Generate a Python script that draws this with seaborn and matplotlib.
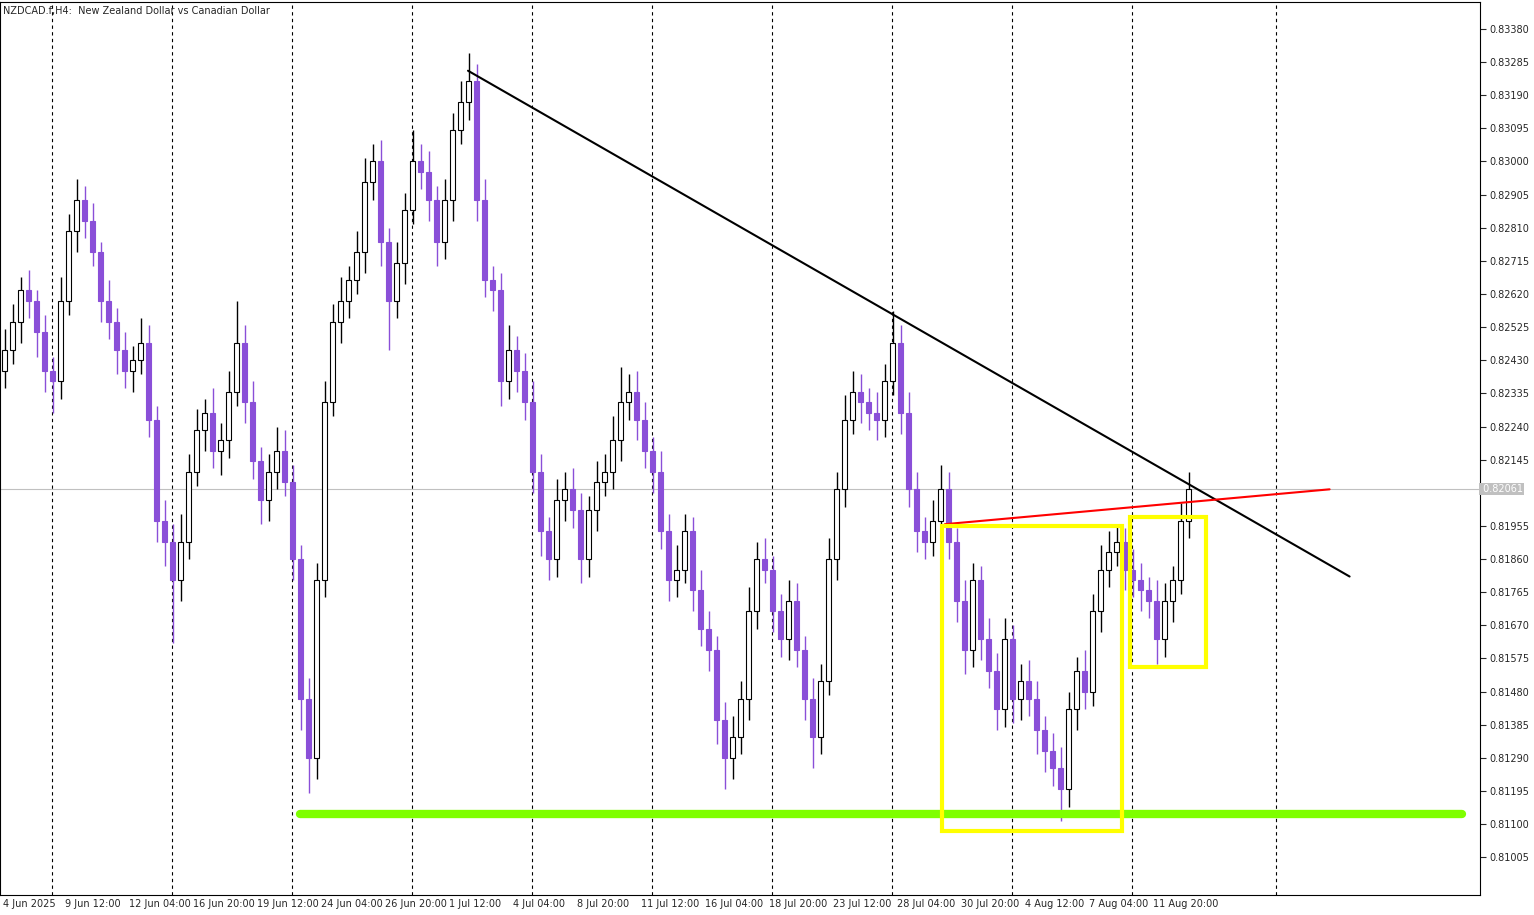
import matplotlib
matplotlib.use("Agg")
import matplotlib.pyplot as plt
import seaborn as sns
import numpy as np
import pandas as pd
from matplotlib.patches import Rectangle

# 8-hour style candles (close of each candle)
closes = [
    .8246, .8254, .8263, .8260, .8251, .8240, .8237, .8260, .8280, .8289,
    .8283, .8274, .8260, .8254, .8246, .8240, .8243, .8248, .8226, .8197,
    .8191, .8180, .8191, .8211, .8223, .8228, .8217, .8220, .8234, .8248,
    .8231, .8214, .8203, .8211, .8217, .8208, .8186, .8146, .8129, .8180,
    .8231, .8254, .8260, .8266, .8274, .8294, .8300, .8277, .8260, .8271,
    .8286, .8300, .8297, .8289, .8277, .8289, .8309, .8317, .8323, .8289,
    .8266, .8263, .8237, .8246, .8240, .8231, .8211, .8194, .8186, .8203,
    .8206, .8200, .8186, .8200, .8208, .8211, .8220, .8231, .8234, .8226,
    .8217, .8211, .8194, .8180, .8183, .8194, .8177, .8166, .8160, .8140,
    .8129, .8135, .8146, .8171, .8186, .8183, .8171, .8163, .8174, .8160,
    .8146, .8135, .8151, .8186, .8206, .8226, .8234, .8231, .8228, .8226,
    .8237, .8248, .8228, .8206, .8194, .8191, .8197, .8206, .8191, .8174,
    .8160, .8180, .8163, .8154, .8143, .8163, .8146, .8151, .8146, .8137,
    .8131, .8126, .8120, .8143, .8154, .8148, .8171, .8183, .8188, .8191,
    .8183, .8180, .8177, .8174, .8163, .8174, .8180, .8197, .8206,
]
first_open = .8240
# wick extensions in pips (0.0001)
upper_wick = [
    6, 5, 4, 6, 3, 5, 4, 7, 5, 6, 4, 5, 3, 6, 4, 5, 4, 7, 5, 4,
    6, 5, 8, 5, 6, 4, 7, 5, 6, 12, 5, 6, 4, 5, 7, 6, 5, 4, 6, 5,
    6, 5, 7, 4, 6, 7, 5, 6, 4, 6, 5, 9, 5, 6, 4, 6, 5, 6, 8, 5,
    6, 4, 5, 7, 4, 5, 6, 5, 4, 6, 5, 6, 5, 4, 6, 5, 7, 10, 5, 6,
    5, 4, 6, 5, 7, 5, 4, 6, 5, 4, 5, 6, 5, 7, 5, 6, 4, 5, 6, 5,
    4, 6, 5, 6, 5, 7, 6, 5, 4, 6, 5, 9, 5, 6, 5, 4, 6, 7, 5, 4,
    6, 5, 4, 6, 5, 6, 4, 5, 6, 5, 4, 5, 6, 5, 4, 6, 5, 7, 6, 5,
    4, 6, 5, 4, 6, 5, 4, 5, 5,
]
lower_wick = [
    5, 4, 6, 5, 7, 6, 9, 5, 4, 6, 5, 4, 6, 5, 7, 5, 6, 4, 5, 6,
    7, 18, 6, 5, 4, 6, 5, 7, 5, 4, 6, 5, 7, 6, 5, 4, 6, 9, 10, 6,
    5, 4, 6, 5, 4, 6, 5, 7, 14, 5, 6, 4, 5, 6, 7, 5, 6, 4, 5, 6,
    5, 6, 7, 5, 6, 5, 6, 7, 6, 5, 6, 5, 7, 5, 6, 4, 5, 6, 5, 6,
    5, 6, 5, 6, 5, 4, 6, 5, 6, 7, 9, 6, 5, 6, 5, 4, 6, 5, 6, 5,
    6, 9, 5, 4, 6, 5, 4, 6, 5, 6, 5, 4, 6, 5, 6, 5, 4, 6, 5, 6,
    7, 5, 6, 5, 6, 5, 7, 6, 5, 7, 6, 5, 9, 5, 6, 5, 4, 6, 5, 4,
    6, 5, 6, 5, 7, 5, 6, 4, 5,
]
price_ticks = [0.81005 + 0.00095 * k for k in range(26) if k != 11]
date_labels = ["4 Jun 2025", "9 Jun 12:00", "12 Jun 04:00", "16 Jun 20:00", "19 Jun 12:00",
               "24 Jun 04:00", "26 Jun 20:00", "1 Jul 12:00", "4 Jul 04:00", "8 Jul 20:00",
               "11 Jul 12:00", "16 Jul 04:00", "18 Jul 20:00", "23 Jul 12:00", "28 Jul 04:00",
               "30 Jul 20:00", "4 Aug 12:00", "7 Aug 04:00", "11 Aug 20:00"]
grid_x = [5.9, 20.9, 35.9, 50.9, 65.9, 80.9, 95.9, 110.9, 125.9, 140.9, 158.9]
current_price = 0.82061
trend_x = [57.9, 168.1]
trend_y = [0.8326, 0.8181]
red_x = [117.5, 165.6]
red_y = [0.8196, 0.8206]
support_x = [36.9, 182.1]
support_y = [0.8113, 0.8113]
box1 = (117.1, 0.8108, 139.6, 0.81955)
box2 = (140.6, 0.8155, 150.1, 0.8198)

closes = np.array(closes)
opens = np.concatenate([[first_open], closes[:-1]])
highs = np.maximum(opens, closes) + np.array(upper_wick) * 1e-4
lows = np.minimum(opens, closes) - np.array(lower_wick) * 1e-4
df = pd.DataFrame({"i": np.arange(len(closes)), "open": opens, "close": closes,
                   "high": highs, "low": lows})

sns.set_style("white")
plt.rcParams["font.family"] = ["DejaVu Sans"]
fig = plt.figure(figsize=(15.34, 9.15), dpi=100)
ax = fig.add_axes([0.0, 1 - 895 / 915, 1480 / 1534, 893 / 915])

purple = "#8a4fd8"
for _, r in df.iterrows():
    up = r["close"] >= r["open"]
    c = "black" if up else purple
    ax.vlines(r["i"], r["low"], r["high"], color=c, lw=1, zorder=3)
    ax.add_patch(Rectangle((r["i"] - 0.3, min(r["open"], r["close"])), 0.6,
                           max(abs(r["close"] - r["open"]), 0.00002),
                           facecolor="white" if up else purple, edgecolor=c, lw=0.8, zorder=4))

for g in grid_x:
    ax.axvline(g, color="black", lw=0.8, ls=(0, (3, 3)), zorder=1)
ax.axhline(current_price, color="#c0c0c0", lw=0.8, zorder=1)

sns.lineplot(x=trend_x, y=trend_y, ax=ax, color="black", lw=1.5, zorder=6)
sns.lineplot(x=red_x, y=red_y, ax=ax, color="red", lw=1.5, zorder=6)
sns.lineplot(x=support_x, y=support_y, ax=ax, color="#7fff00", lw=6, zorder=5)
for x0, y0, x1, y1 in (box1, box2):
    ax.add_patch(Rectangle((x0, y0), x1 - x0, y1 - y0, fill=False, edgecolor="#ffff00",
                           lw=3, zorder=7))

ax.set_xlim(-0.6, 184.4)
ax.set_ylim(0.80897, 0.83457)
ax.yaxis.tick_right()
ax.set_yticks(price_ticks)
ax.set_yticklabels([f"{p:.5f}" for p in price_ticks], fontsize=7)
ax.tick_params(axis="y", length=4, pad=3)
ax.set_xticks([])
for k, lab in enumerate(date_labels):
    px = 3 if k == 0 else 65 + 64 * (k - 1)
    ax.text((px - 5) / 8, -0.005, lab, transform=ax.get_xaxis_transform(),
            fontsize=7, ha="left", va="top")
ax.text(184.4, current_price, f" {current_price:.5f}", fontsize=7, color="white",
        va="center", ha="left", transform=ax.transData, clip_on=False,
        bbox=dict(facecolor="#c0c0c0", edgecolor="none", pad=1))
ax.text(0.002, 0.995, "NZDCAD.f,H4:  New Zealand Dollar vs Canadian Dollar",
        transform=ax.transAxes, fontsize=7, va="top")
for s in ax.spines.values():
    s.set_color("black")
    s.set_linewidth(0.8)

fig.savefig("out.png", dpi=100)
